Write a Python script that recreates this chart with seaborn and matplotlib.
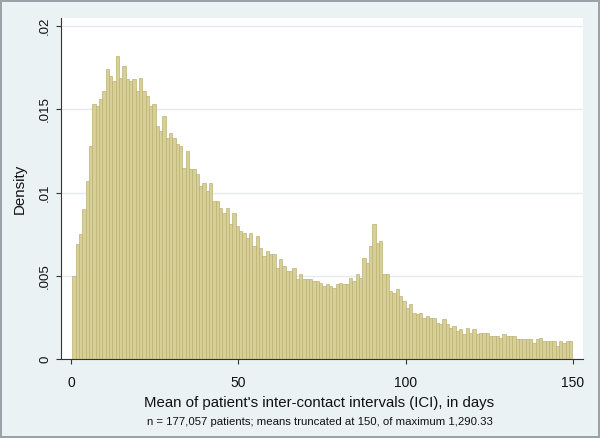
import numpy as np
import pandas as pd
import matplotlib
matplotlib.use("Agg")
import matplotlib.pyplot as plt
import seaborn as sns

# estilo base, luego fuentes (set_style pisa font.family)
sns.set_style("white")
plt.rcParams["font.family"] = ["Liberation Sans", "DejaVu Sans"]

# densidad por barra (ancho ~1 dia)
density = [
    0.0050, 0.0069, 0.0075, 0.0090, 0.0107, 0.0128, 0.0153, 0.0152, 0.0156, 0.0161,
    0.0174, 0.0170, 0.0167, 0.0182, 0.0169, 0.0176, 0.0168, 0.0167, 0.0168, 0.0161,
    0.0169, 0.0161, 0.0158, 0.0152, 0.0153, 0.0140, 0.0137, 0.0146, 0.0133, 0.0136,
    0.0133, 0.0129, 0.0128, 0.0115, 0.0125, 0.0114, 0.0114, 0.0111, 0.0104, 0.0106,
    0.0101, 0.0106, 0.0095, 0.0095, 0.0091, 0.0088, 0.0091, 0.0081, 0.0088, 0.0080,
    0.0077, 0.0076, 0.0073, 0.0076, 0.0068, 0.0074, 0.0067, 0.0062, 0.0065, 0.0063,
    0.0063, 0.0055, 0.0060, 0.0056, 0.0053, 0.0053, 0.0055, 0.0048, 0.0051, 0.0048,
    0.0048, 0.0048, 0.0047, 0.0047, 0.0046, 0.0044, 0.0045, 0.0044, 0.0043, 0.0045,
    0.0046, 0.0045, 0.0045, 0.0049, 0.0047, 0.0051, 0.0049, 0.0061, 0.0058, 0.0068,
    0.0081, 0.0070, 0.0071, 0.0051, 0.0051, 0.0041, 0.0040, 0.0042, 0.0038, 0.0035,
    0.0031, 0.0033, 0.0028, 0.0027, 0.0028, 0.0025, 0.0026, 0.0025, 0.0025, 0.0022,
    0.0021, 0.0024, 0.0021, 0.0019, 0.0020, 0.0017, 0.0018, 0.0015, 0.0019, 0.0016,
    0.0018, 0.0015, 0.0016, 0.0016, 0.0016, 0.0014, 0.0014, 0.0014, 0.0013, 0.0015,
    0.0014, 0.0014, 0.0014, 0.0012, 0.0012, 0.0012, 0.0012, 0.0012, 0.0010, 0.0012,
    0.0013, 0.0011, 0.0011, 0.0011, 0.0011, 0.0008, 0.0011, 0.0010, 0.0011, 0.0011,
]
bin_start = 0.33
bin_width = 0.997

x_ticks = [0, 50, 100, 150]
y_ticks = [0, 0.005, 0.01, 0.015, 0.02]
y_tick_labels = ["0", ".005", ".01", ".015", ".02"]

x_title = "Mean of patient's inter-contact intervals (ICI), in days"
y_title = "Density"
note = "n = 177,057 patients; means truncated at 150, of maximum 1,290.33"

edges = bin_start + bin_width * np.arange(len(density) + 1)
df = pd.DataFrame({"ici": (edges[:-1] + edges[1:]) / 2, "density": density})

fig = plt.figure(figsize=(6, 4.38), dpi=100, facecolor="#eaf2f3",
                 edgecolor="#9aa4a8", linewidth=1.5)
ax = fig.add_axes([0.1025, 0.1797, 0.8692, 0.7785])
ax.set_facecolor("white")

sns.histplot(data=df, x="ici", weights="density", bins=edges.tolist(), stat="count",
             color="#d6cf96", edgecolor="#bdb274", linewidth=0.5, alpha=1,
             ax=ax, zorder=2)

ax.set_xlim(-2.9, 153.1)
ax.set_ylim(0, 0.02046)
ax.set_xticks(x_ticks)
ax.set_yticks(y_ticks, y_tick_labels)
plt.setp(ax.get_yticklabels(), rotation=90, va="center")

ax.yaxis.grid(True, color="#e4ecee", linewidth=1)
ax.set_axisbelow(True)
for s in ["top", "right"]:
    ax.spines[s].set_visible(False)
for s in ["left", "bottom"]:
    ax.spines[s].set_color("#333333")
    ax.spines[s].set_linewidth(0.8)
ax.tick_params(bottom=True, left=True, direction="out", length=3.9, width=0.8,
               color="#333333", labelcolor="#111111")
ax.tick_params(axis="x", pad=7.8, labelsize=10)
ax.tick_params(axis="y", pad=3.5, labelsize=9.5)

ax.set_ylabel(y_title, fontsize=10.8, color="#111111", labelpad=9)
ax.set_xlabel("")
# titulo del eje x y nota, al estilo Stata
fig.text(0.531, 0.0715, x_title, fontsize=10.8, color="#111111", ha="center", va="baseline")
fig.text(0.534, 0.0297, note, fontsize=8.2, color="#111111", ha="center", va="baseline")

fig.savefig("out.png", dpi=100, facecolor=fig.get_facecolor(),
            edgecolor=fig.get_edgecolor())
